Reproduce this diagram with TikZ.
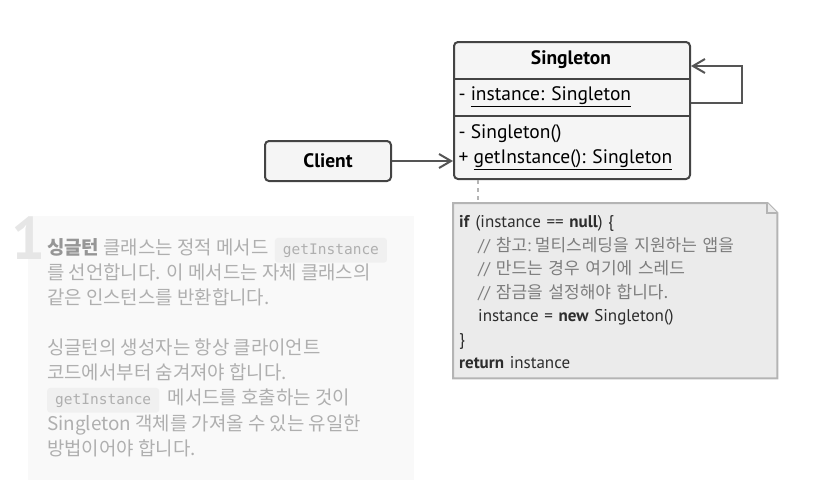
\documentclass[tikz,border=0pt]{standalone}
\usepackage{fontspec}
\setmainfont{PT Sans}
\setmonofont{DejaVu Sans Mono}
\newfontfamily\kr{Noto Sans CJK KR}
\usetikzlibrary{positioning,arrows.meta}
\pgfdeclarelayer{background}
\pgfsetlayers{background,main}
\definecolor{boxfill}{RGB}{245,245,245}
\definecolor{boxline}{RGB}{68,68,68}
\definecolor{linkgray}{RGB}{85,85,85}
\definecolor{notefill}{RGB}{235,235,235}
\definecolor{noteline}{RGB}{180,180,180}
\definecolor{codetext}{RGB}{45,45,45}
\definecolor{cmttext}{RGB}{125,125,125}
\definecolor{panelfill}{RGB}{249,249,249}
\definecolor{pgray}{RGB}{175,175,175}
\definecolor{pbold}{RGB}{150,150,150}
\definecolor{numgray}{RGB}{230,230,230}
\definecolor{chipfill}{RGB}{240,240,240}

\begin{document}
\begin{tikzpicture}[
x=1pt, y=-1pt,
font=\fontsize{19.5}{23}\selectfont,
classbox/.style={
	draw=boxline,
	fill=boxfill,
	line width=2pt,
	rounded corners=4pt
},
classname/.style={
	font=\fontsize{19.5}{23}\selectfont\bfseries
},
sepline/.style={
	draw=boxline,
	line width=2pt
},
member/.style={
	anchor=west
},
assoc/.style={
	draw=linkgray,
	line width=2pt,
	-{Straight Barb[length=12pt,width=14pt]}
},
notelink/.style={
	draw=noteline,
	line width=2pt,
	dash pattern=on 4pt off 4pt
},
notebox/.style={
	minimum width=324pt,
	minimum height=175pt,
	text width=312pt,
	inner xsep=6pt,
	align=left,
	text=codetext,
	font=\fontsize{17}{23.5}\selectfont
},
noteshape/.style={
	draw=noteline,
	fill=notefill,
	line width=2pt
},
panelbg/.style={
	fill=panelfill,
	inner sep=0pt
},
bignum/.style={
	text=numgray,
	inner sep=0pt,
	font=\fontsize{60}{60}\selectfont\bfseries
},
ptext/.style={
	anchor=base west,
	inner sep=0pt,
	text=pgray,
	font=\kr\fontsize{18.9}{23}\selectfont
},
chip/.style={
	fill=chipfill,
	rounded corners=3pt,
	inner xsep=8pt,
	inner ysep=5.5pt,
	text=pgray,
	font=\ttfamily\fontsize{14.5}{16}\selectfont
}
]
\useasboundingbox (0,0) rectangle (814,491);

% left panel
\node[panelbg,anchor=north west,minimum width=386pt,minimum height=264pt] (panel) at (28,216) {};
\node[bignum] (num) at (29,238) {1};
\node[ptext] (p254) at (47,254) {{\bfseries\color{pbold}싱글턴} 클래스는 정적 메서드};
\node[chip,anchor=base west] (chip1) at ([xshift=6pt]p254.base east) {getInstance};
\foreach \y/\l in {279/를 선언합니다. 이 메서드는 자체 클래스의, 304/같은 인스턴스를 반환합니다., 354/싱글턴의 생성자는 항상 클라이언트, 379/코드에서부터 숨겨져야 합니다., 430/Singleton 객체를 가져올 수 있는 유일한, 455/방법이어야 합니다.}
\node[ptext] (p\y) at (47,\y) {\l};
\node[chip,anchor=base west] (chip2) at (47,404) {getInstance};
\node[ptext] (p404) at ([xshift=8pt]chip2.base east) {메서드를 호출하는 것이};

% Singleton class
\node[classbox,anchor=north west,minimum width=236pt,minimum height=137pt] (singleton) at (453,41) {};
\node[classname] (sname) at (571,60) {Singleton};
\draw[sepline] (singleton.west |- 0,79) -- (singleton.east |- 0,79);
\draw[sepline] (singleton.west |- 0,116) -- (singleton.east |- 0,116);
\node[member] (attr) at (455,97) {- \underline{instance: Singleton}};
\node[member] (ctor) at (455,134) {- Singleton()};
\node[member] (getinst) at (455,160) {+ \underline{getInstance(): Singleton}};

\node[classbox,classname,minimum width=126pt,minimum height=40pt] (client) at (328,161) {Client};

\draw[assoc] (client.east) -- (client.east -| singleton.west);
\draw[assoc] ([yshift=7.5pt]singleton.east) -- ++(51,0) |- ([yshift=44.5pt]singleton.east);

% note
\node[notebox,anchor=north west] (note) at (453,203) {%
\rule{0pt}{15pt}\textbf{if} (instance == \textbf{null}) \{\\
\hspace*{19pt}{\color{cmttext}// {\kr 참고}:\hspace{4pt}{\kr 멀티스레딩을 지원하는 앱을}}\\
\hspace*{19pt}{\color{cmttext}// {\kr 만드는 경우 여기에 스레드}}\\
\hspace*{19pt}{\color{cmttext}// {\kr 잠금을 설정해야 합니다.}}\\
\hspace*{19pt}instance = \textbf{new} Singleton()\\
\}\\
\textbf{return} instance};
\begin{pgfonlayer}{background}
\filldraw[noteshape] (note.north west) -- ([xshift=-10pt]note.north east) -- ([yshift=-10pt]note.north east) -- (note.south east) -- (note.south west) -- cycle;
\draw[noteshape] ([xshift=-10pt]note.north east) |- ([yshift=-10pt]note.north east);
\end{pgfonlayer}
\draw[notelink] ([xshift=25pt]singleton.south west) -- ([xshift=25pt]note.north west);
\end{tikzpicture}
\end{document}
